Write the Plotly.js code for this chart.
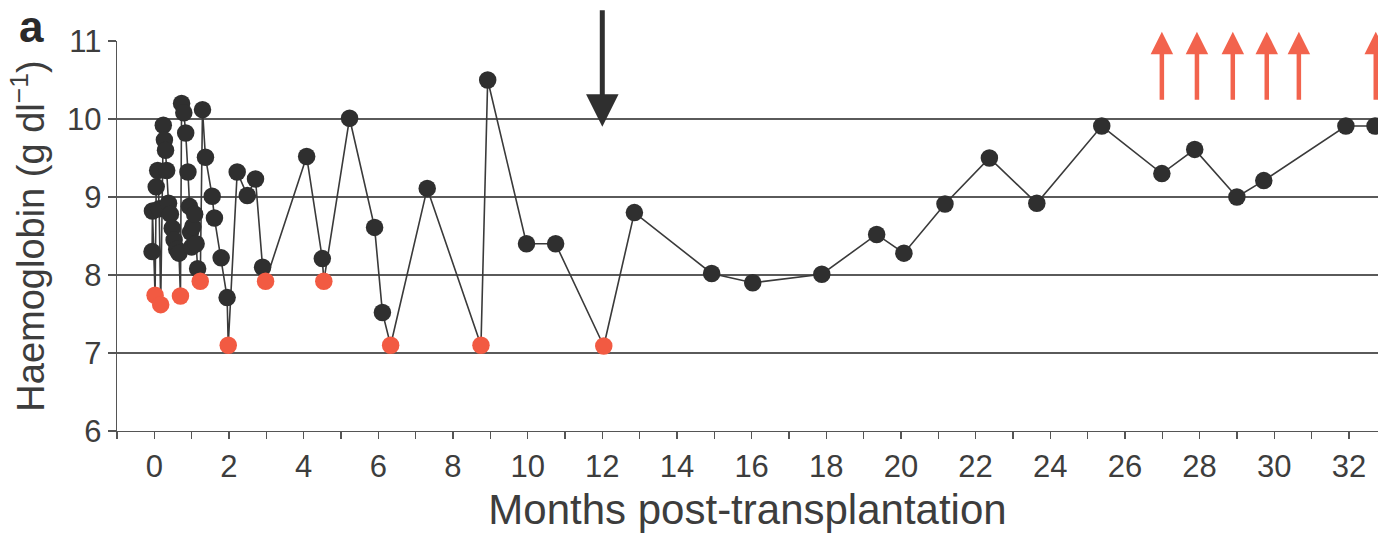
<!DOCTYPE html>
<html><head><meta charset="utf-8">
<script src="https://cdn.plot.ly/plotly-3.0.1.min.js"></script>
<style>html,body{margin:0;padding:0;background:#fff;}#chart{width:1378px;height:542px;}</style>
</head><body><div id="chart"></div>
<script>
// Months post-transplantation of each haemoglobin measurement
const months = [-0.06,-0.05,0.02,0.05,0.09,0.13,0.17,0.24,0.27,0.30,0.33,0.38,0.43,0.48,0.53,0.60,0.66,0.70,0.73,0.79,0.84,0.90,0.94,0.97,1.00,1.03,1.08,1.12,1.16,1.23,1.29,1.37,1.55,1.61,1.79,1.95,1.98,2.22,2.49,2.71,2.90,2.98,4.08,4.50,4.54,5.23,5.90,6.11,6.33,7.31,8.75,8.93,9.97,10.75,12.04,12.86,14.93,16.03,17.88,19.35,20.08,21.18,22.37,23.64,25.38,26.99,27.87,29.00,29.72,31.92,32.70];
// Haemoglobin (g/dl)
const haemoglobin = [8.30,8.82,7.74,9.13,9.34,8.85,7.62,9.92,9.73,9.60,9.34,8.92,8.78,8.60,8.45,8.33,8.28,7.73,10.20,10.08,9.82,9.32,8.88,8.55,8.36,8.62,8.78,8.40,8.08,7.92,10.12,9.51,9.01,8.73,8.22,7.71,7.10,9.32,9.02,9.23,8.10,7.92,9.52,8.21,7.92,10.01,8.61,7.52,7.10,9.11,7.10,10.50,8.40,8.40,7.09,8.80,8.02,7.90,8.01,8.52,8.28,8.91,9.50,8.92,9.91,9.30,9.61,9.00,9.21,9.91,9.91];
// 1 = red (transfusion) point
const transfused = [0,0,1,0,0,0,1,0,0,0,0,0,0,0,0,0,0,1,0,0,0,0,0,0,0,0,0,0,0,1,0,0,0,0,0,0,1,0,0,0,0,1,0,0,1,0,0,0,1,0,1,0,0,0,1,0,0,0,0,0,0,0,0,0,0,0,0,0,0,0,0];
const xTickVals = [0,2,4,6,8,10,12,14,16,18,20,22,24,26,28,30,32];
const xTickText = ['0','2','4','6','8','10','12','14','16','18','20','22','24','26','28','30','32'];
const yTickVals = [6,7,8,9,10,11];
const yTickText = ['6','7','8','9','10','11'];
const blackArrowMonths = [12];
const redArrowMonths = [26.99,27.93,28.89,29.80,30.66,32.72];

const bx=[],by=[],rx=[],ry=[];
months.forEach((m,i)=>{ if(transfused[i]){rx.push(m);ry.push(haemoglobin[i]);} else {bx.push(m);by.push(haemoglobin[i]);} });

const traces = [
 {x:months,y:haemoglobin,mode:'lines',line:{color:'#3a3a3a',width:1.6},hoverinfo:'skip'},
 {x:bx,y:by,mode:'markers',marker:{color:'#2f2f2f',size:17.5,line:{width:0}},cliponaxis:false},
 {x:rx,y:ry,mode:'markers',marker:{color:'#f25a42',size:17.5,line:{width:0}},cliponaxis:false}
];

const annotations = [];
blackArrowMonths.forEach(m=>annotations.push({x:m,y:9.9,ax:m,ay:11.42,xref:'x',yref:'y',axref:'x',ayref:'y',text:' ',showarrow:true,arrowhead:2,arrowwidth:5,arrowsize:1.3,arrowcolor:'#2f2f2f',standoff:0,font:{size:1}}));
redArrowMonths.forEach(m=>annotations.push({x:m,y:11.12,ax:m,ay:10.22,xref:'x',yref:'y',axref:'x',ayref:'y',text:' ',showarrow:true,arrowhead:2,arrowwidth:4.5,arrowsize:1.0,arrowcolor:'#f2634d',standoff:0,font:{size:1}}));
annotations.push({xref:'paper',yref:'paper',x:-0.068,y:1.036,xanchor:'center',yanchor:'middle',text:'a',showarrow:false,font:{size:44,color:'#2a2a2a',family:'Liberation Sans',weight:'bold'}});

const layout = {
 width:1378,height:542,
 margin:{l:117,r:0,t:41,b:111,pad:0},
 paper_bgcolor:'#ffffff',plot_bgcolor:'#ffffff',
 font:{family:'Liberation Sans, Arial, sans-serif',color:'#3a3a3a'},
 showlegend:false,
 xaxis:{range:[-1,32.78],tickmode:'array',tickvals:xTickVals,ticktext:xTickText,ticks:'outside',ticklen:7,tickwidth:1.3,tickcolor:'#555',
   showline:true,linecolor:'#555',linewidth:1.3,showgrid:false,zeroline:false,tickfont:{size:31,color:'#3d3d3d'},
   minor:{tickmode:'linear',tick0:0,dtick:1,ticks:'outside',ticklen:7,tickwidth:1.3,tickcolor:'#555',showgrid:false},
   title:{text:'Months post-transplantation',font:{size:42,color:'#3d3d3d'},standoff:12},automargin:false},
 yaxis:{range:[6,11],tickmode:'array',tickvals:yTickVals,ticktext:yTickText,ticks:'outside',ticklen:8,tickwidth:1.3,tickcolor:'#555',
   showline:true,linecolor:'#555',linewidth:1.3,showgrid:true,gridcolor:'#5a5a5a',gridwidth:1.3,zeroline:false,tickfont:{size:31,color:'#3d3d3d'},
   title:{text:'Haemoglobin (g dl<sup>−1</sup>)',font:{size:38,color:'#3d3d3d'},standoff:10},automargin:false},
 annotations:annotations
};
Plotly.newPlot('chart',traces,layout,{displayModeBar:false,staticPlot:true});
</script>
</body></html>
